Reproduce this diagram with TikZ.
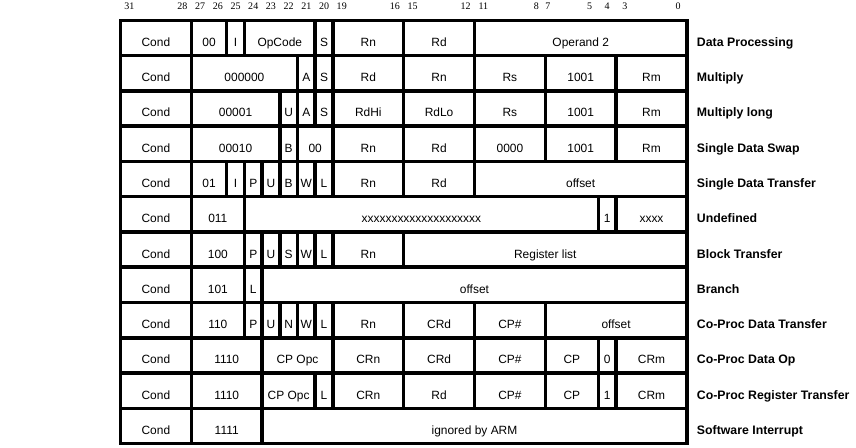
\documentclass[tikz,border=0pt]{standalone}
\usepackage{fontspec}
\setmainfont{Liberation Sans}
\newfontfamily\bitfont{Liberation Serif}
\tikzset{
    cell/.style={line width=2pt, line join=miter},
    field/.style={anchor=base, inner sep=0pt, font=\fontsize{6.8}{8}\selectfont},
    format/.style={anchor=base west, inner sep=0pt, font=\fontsize{7}{8}\selectfont\bfseries},
    bitnum/.style={anchor=base, inner sep=0pt, font=\bitfont\fontsize{5.7}{7}\selectfont}
}
\begin{document}
\begin{tikzpicture}[x=0.354cm, y=-0.7056cm]
        \useasboundingbox (-6.808,-0.5754) rectangle (41.554,12.123);

        % Bit numbers above the table
        \foreach \b/\x in {31/0.5,28/3.5,27/4.5,26/5.5,25/6.5,24/7.5,23/8.5,22/9.5,21/10.5,20/11.5,19/12.5,16/15.5,15/16.5,12/19.5,11/20.5,8/23.5,7/24.15,5/26.5,4/27.5,3/28.5,0/31.5} {
            \node[bitnum] (bit\b) at (\x,-0.32) {\b};
        }

        % One row per instruction format: fields as first/last column/text
        \foreach \r/\fields/\fmt in {
            0/{0/4/Cond,4/6/00,6/7/I,7/11/OpCode,11/12/S,12/16/Rn,16/20/Rd,20/32/Operand 2}/Data Processing,
            1/{0/4/Cond,4/10/000000,10/11/A,11/12/S,12/16/Rd,16/20/Rn,20/24/Rs,24/28/1001,28/32/Rm}/Multiply,
            2/{0/4/Cond,4/9/00001,9/10/U,10/11/A,11/12/S,12/16/RdHi,16/20/RdLo,20/24/Rs,24/28/1001,28/32/Rm}/Multiply long,
            3/{0/4/Cond,4/9/00010,9/10/B,10/12/00,12/16/Rn,16/20/Rd,20/24/0000,24/28/1001,28/32/Rm}/Single Data Swap,
            4/{0/4/Cond,4/6/01,6/7/I,7/8/P,8/9/U,9/10/B,10/11/W,11/12/L,12/16/Rn,16/20/Rd,20/32/offset}/Single Data Transfer,
            5/{0/4/Cond,4/7/011,7/27/xxxxxxxxxxxxxxxxxxxx,27/28/1,28/32/xxxx}/Undefined,
            6/{0/4/Cond,4/7/100,7/8/P,8/9/U,9/10/S,10/11/W,11/12/L,12/16/Rn,16/32/Register list}/Block Transfer,
            7/{0/4/Cond,4/7/101,7/8/L,8/32/offset}/Branch,
            8/{0/4/Cond,4/7/110,7/8/P,8/9/U,9/10/N,10/11/W,11/12/L,12/16/Rn,16/20/CRd,20/24/CP\#,24/32/offset}/Co-Proc Data Transfer,
            9/{0/4/Cond,4/8/1110,8/12/CP Opc,12/16/CRn,16/20/CRd,20/24/CP\#,24/27/CP,27/28/0,28/32/CRm}/Co-Proc Data Op,
            10/{0/4/Cond,4/8/1110,8/11/CP Opc,11/12/L,12/16/CRn,16/20/Rd,20/24/CP\#,24/27/CP,27/28/1,28/32/CRm}/Co-Proc Register Transfer,
            11/{0/4/Cond,4/8/1111,8/32/ignored by ARM}/Software Interrupt} {
            \foreach \lo/\hi/\txt in \fields {
                \draw[cell] (\lo,\r) rectangle (\hi,\r+1);
                \node[field] (f\r-\lo) at ({(\lo+\hi)/2},\r+0.74) {\txt};
            }
            % Format name right of the row
            \node[format] (fmt\r) at (32.55,\r+0.74) {\fmt};
        }
\end{tikzpicture}
\end{document}
